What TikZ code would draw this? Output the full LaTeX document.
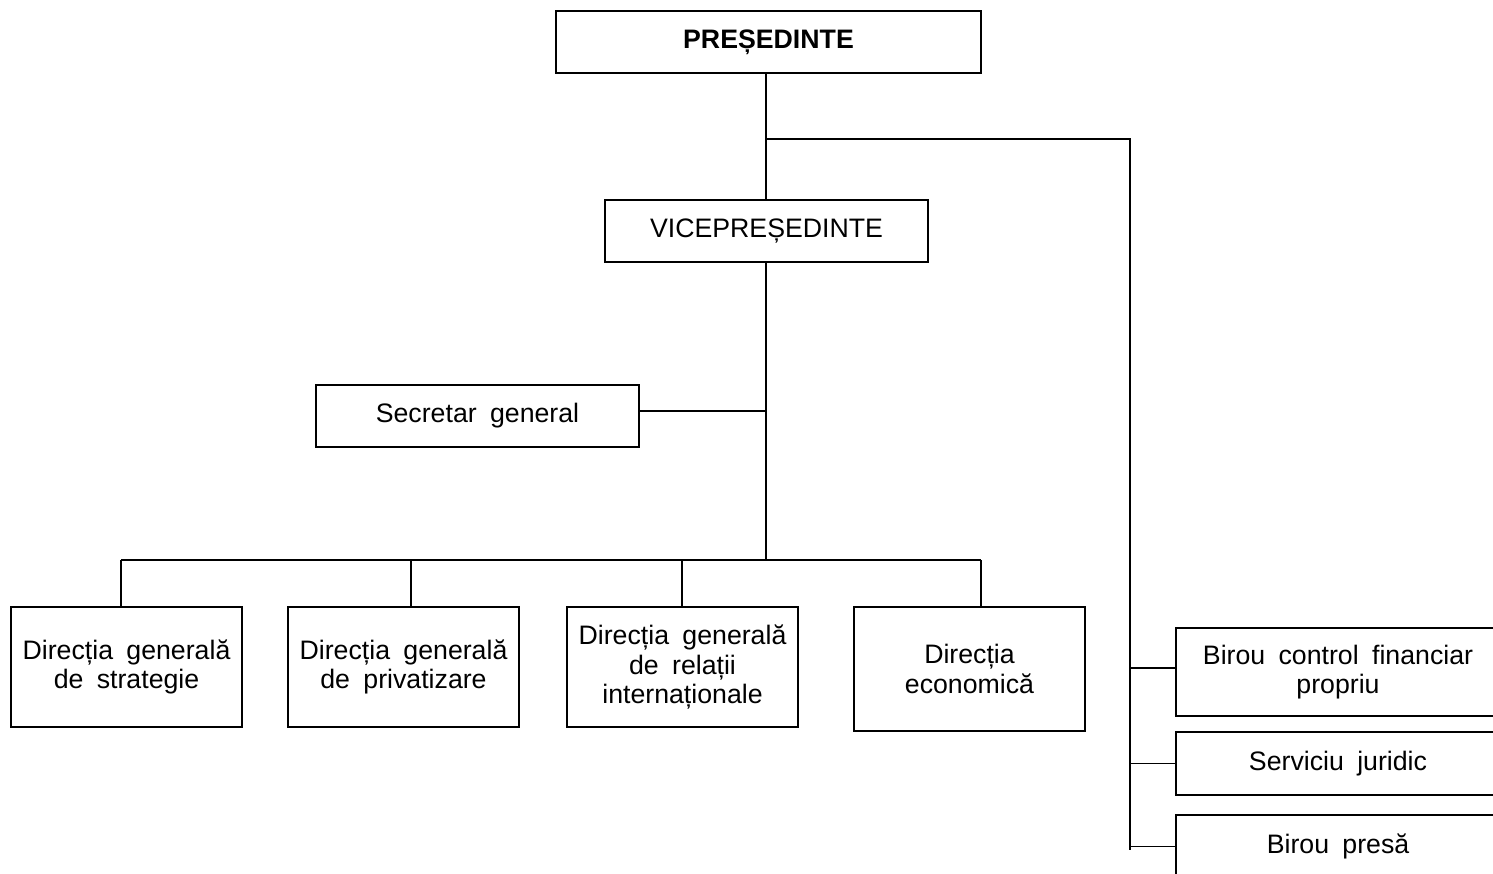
\documentclass[tikz,border=0pt]{standalone}
\usepackage{fontspec}
\setmainfont{Liberation Sans}
\begin{document}
\begin{tikzpicture}[x=0.02cm,y=-0.02cm,
  box/.style={draw,line width=1pt,inner sep=0pt,align=center,
    font=\fontsize{15.2}{16.8}\selectfont,
    execute at begin node={\spaceskip=0.5em plus 0.1em\relax}},
  link/.style={line width=1pt}]
\useasboundingbox (0,0) rectangle (1493,873);
\clip (0,0) rectangle (1493,873);
\node[box,minimum width=8.5cm,minimum height=1.24cm,font=\fontsize{15.2}{16.8}\selectfont\bfseries] (pres) at (768.5,42) {PREȘEDINTE};
\node[box,minimum width=6.46cm,minimum height=1.24cm] (vice) at (766.5,231) {VICEPREȘEDINTE};
\node[box,minimum width=6.46cm,minimum height=1.24cm] (sec) at (477.5,416) {Secretar general};
\node[box,minimum width=4.62cm,minimum height=2.4cm] (d1) at (126.5,667) {Direcția generală\\de strategie};
\node[box,minimum width=4.62cm,minimum height=2.4cm] (d2) at (403.5,667) {Direcția generală\\de privatizare};
\node[box,minimum width=4.62cm,minimum height=2.4cm] (d3) at (682.5,667) {Direcția generală\\de relații\\internaționale};
\node[box,minimum width=4.62cm,minimum height=2.48cm] (d4) at (969.5,669) {Direcția\\economică};
\node[box,minimum width=6.48cm,minimum height=1.76cm] (b1) at (1338,672) {Birou control financiar\\propriu};
\node[box,minimum width=6.48cm,minimum height=1.26cm] (b2) at (1338,763.5) {Serviciu juridic};
\node[box,minimum width=6.48cm,minimum height=1.26cm] (b3) at (1338,846.5) {Birou presă};
% junctions
\coordinate (j1) at (766,139);
\coordinate (r0) at (1130,139);
\coordinate (rend) at (1130,850);
\coordinate (bus) at (766,560);
\coordinate (t1) at (121,560);
\coordinate (t2) at (411,560);
\coordinate (t3) at (682,560);
\coordinate (t4) at (981,560);
\coordinate (sj) at ([yshift=0.1cm]sec.east);
\coordinate (bj) at ([yshift=0.08cm]b1.west);
% connectors
\draw[link] (pres.south -| j1) -- (vice.north -| j1);
\draw[link] (j1) -- (r0) -- (rend);
\draw[link] (vice.south -| bus) -- (bus);
\draw[link] (sj) -- (sj -| bus);
\draw[link] (t1) -- (t4);
\draw[link] (t1) -- (t1 |- d1.north);
\draw[link] (t2) -- (t2 |- d2.north);
\draw[link] (t3) -- (t3 |- d3.north);
\draw[link] (t4) -- (t4 |- d4.north);
\draw[link] (bj -| r0) -- (bj);
\draw[link] (b2.west -| r0) -- (b2.west);
\draw[link] (b3.west -| r0) -- (b3.west);
\end{tikzpicture}
\end{document}
